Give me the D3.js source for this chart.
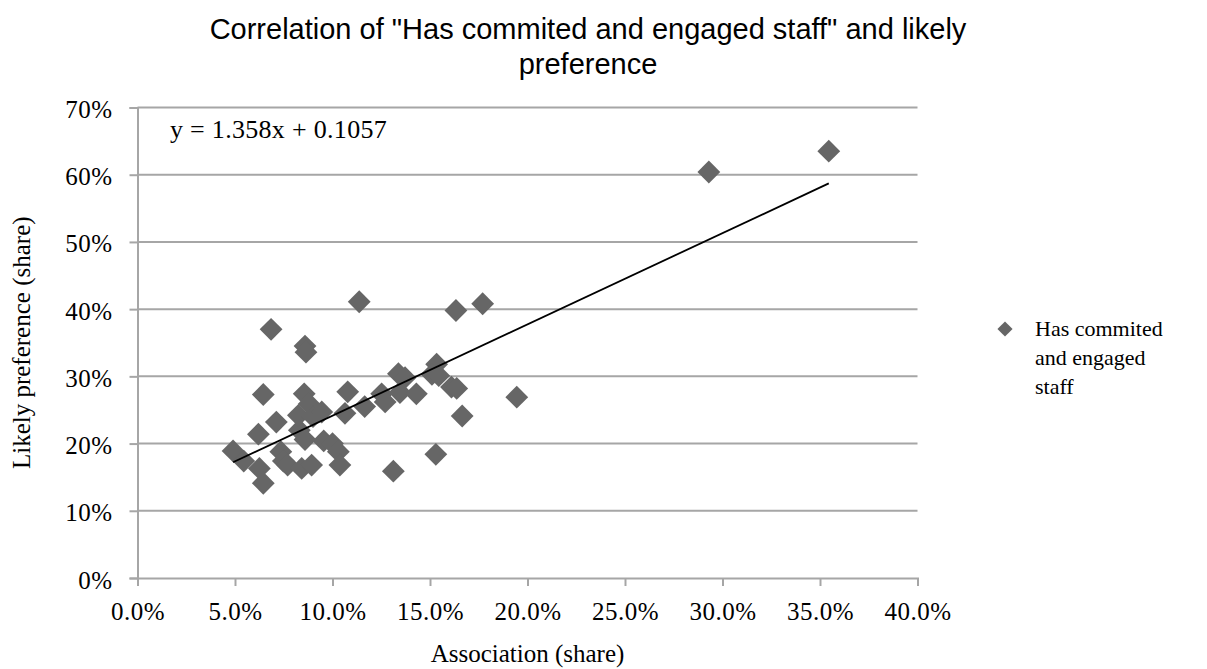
<!DOCTYPE html>
<html>
<head>
<meta charset="utf-8">
<script src="https://cdn.jsdelivr.net/npm/d3@7"></script>
<style>
  html, body { margin: 0; padding: 0; background: #fff; }
  svg { display: block; }
</style>
</head>
<body>
<svg id="chart" width="1207" height="669"></svg>
<script>
// Association share (x) and likely preference share (y), one entry per point
const association = [
  0.049, 0.0545, 0.062, 0.0625, 0.0645, 0.0645, 0.0685, 0.0712, 0.0735, 0.0748,
  0.077, 0.083, 0.0825, 0.0842, 0.0855, 0.0859, 0.0864, 0.0859, 0.088, 0.0893,
  0.090, 0.0945, 0.0955, 0.100, 0.103, 0.1038, 0.1064, 0.1078, 0.1137, 0.1165,
  0.1252, 0.127, 0.1312, 0.1338, 0.1372, 0.1346, 0.143, 0.1534, 0.151, 0.1545,
  0.153, 0.161, 0.1637, 0.1633, 0.1665, 0.177, 0.1945, 0.293, 0.3545
];
const preference = [
  0.189, 0.174, 0.214, 0.163, 0.273, 0.141, 0.370, 0.232, 0.188, 0.174,
  0.168, 0.220, 0.242, 0.163, 0.274, 0.345, 0.336, 0.206, 0.259, 0.168,
  0.240, 0.247, 0.204, 0.200, 0.188, 0.168, 0.245, 0.277, 0.411, 0.255,
  0.274, 0.262, 0.159, 0.304, 0.298, 0.276, 0.274, 0.318, 0.303, 0.301,
  0.184, 0.284, 0.282, 0.398, 0.241, 0.408, 0.269, 0.604, 0.635
];
const seriesName = "Has commited and engaged staff";
const legendLines = ["Has commited", "and engaged", "staff"];
const xTicks = [0, 0.05, 0.10, 0.15, 0.20, 0.25, 0.30, 0.35, 0.40];
const yTicks = [0, 0.1, 0.2, 0.3, 0.4, 0.5, 0.6, 0.7];
// Linear trend: y = slope * x + intercept
const slope = 1.358;
const intercept = 0.1057;
const titleLines = ["Correlation of \"Has commited and engaged staff\" and likely", "preference"];

const svg = d3.select("#chart");
const plot = { left: 137.5, right: 917.5, top: 107.5, bottom: 578 };

const x = d3.scaleLinear().domain([0, 0.4]).range([plot.left, plot.right]);
const y = d3.scaleLinear().domain([0, 0.7]).range([plot.bottom, plot.top]);

const serif = "'Liberation Serif', 'DejaVu Serif', serif";
const sans = "'Liberation Sans', Arial, sans-serif";
const gridColor = "#a6a6a6";
const markColor = "#666666";

// Title
svg.append("g").selectAll("text").data(titleLines).join("text")
  .attr("x", 588).attr("y", (d, i) => 38.5 + i * 35)
  .attr("text-anchor", "middle")
  .attr("font-family", sans).attr("font-size", 29).attr("fill", "#000")
  .text(d => d);

// Horizontal gridlines
svg.append("g").selectAll("line").data(yTicks.filter(t => t > 0)).join("line")
  .attr("x1", plot.left).attr("x2", plot.right)
  .attr("y1", d => y(d)).attr("y2", d => y(d))
  .attr("stroke", gridColor).attr("stroke-width", 2);

// Y axis
const yAxis = d3.axisLeft(y).tickValues(yTicks).tickFormat(d3.format(".0%")).tickSize(8).tickPadding(17);
const gy = svg.append("g").attr("transform", `translate(${plot.left},0)`).call(yAxis);
gy.select(".domain").attr("stroke", gridColor).attr("stroke-width", 2);
gy.selectAll(".tick line").attr("stroke", gridColor).attr("stroke-width", 2);
gy.selectAll(".tick text").attr("font-family", serif).attr("font-size", 25)
  .attr("letter-spacing", 0.5).attr("dy", "0.4em").attr("fill", "#000");

// X axis
const xAxis = d3.axisBottom(x).tickValues(xTicks).tickFormat(d3.format(".1%")).tickSize(8).tickPadding(16);
const gx = svg.append("g").attr("transform", `translate(0,${plot.bottom})`).call(xAxis);
gx.select(".domain").attr("stroke", gridColor).attr("stroke-width", 2);
gx.selectAll(".tick line").attr("stroke", gridColor).attr("stroke-width", 2);
gx.selectAll(".tick text").attr("font-family", serif).attr("font-size", 25)
  .attr("letter-spacing", 0.5).attr("fill", "#000");

// Axis titles
svg.append("text")
  .attr("x", (plot.left + plot.right) / 2).attr("y", 662)
  .attr("text-anchor", "middle")
  .attr("font-family", serif).attr("font-size", 25).attr("fill", "#000")
  .text("Association (share)");
svg.append("text")
  .attr("transform", `translate(30,${(plot.top + plot.bottom) / 2}) rotate(-90)`)
  .attr("text-anchor", "middle")
  .attr("font-family", serif).attr("font-size", 25).attr("fill", "#000")
  .text("Likely preference (share)");

// Points as diamonds
const points = association.map((a, i) => ({ a, p: preference[i] }));
const diamond = d3.symbol().type(d3.symbolSquare).size(260);
svg.append("g").selectAll("path").data(points).join("path")
  .attr("d", diamond)
  .attr("transform", d => `translate(${x(d.a)},${y(d.p)}) rotate(45)`)
  .attr("fill", markColor);

// Trendline spanning the data range
const xMin = d3.min(association), xMax = d3.max(association);
svg.append("line")
  .attr("x1", x(xMin)).attr("y1", y(slope * xMin + intercept))
  .attr("x2", x(xMax)).attr("y2", y(slope * xMax + intercept))
  .attr("stroke", "#000").attr("stroke-width", 1.8);

// Trendline equation
svg.append("text")
  .attr("x", 170).attr("y", 138)
  .attr("font-family", serif).attr("font-size", 26).attr("letter-spacing", 0.3).attr("fill", "#000")
  .text(`y = ${slope}x + ${intercept}`);

// Legend
const legend = svg.append("g").attr("transform", "translate(1005,329)");
legend.append("path")
  .attr("d", d3.symbol().type(d3.symbolSquare).size(115))
  .attr("transform", "rotate(45)")
  .attr("fill", markColor);
legend.append("g").selectAll("text").data(legendLines).join("text")
  .attr("x", 30).attr("y", (d, i) => 7 + i * 29)
  .attr("font-family", serif).attr("font-size", 22).attr("fill", "#000")
  .text(d => d);
legend.append("title").text(seriesName);
</script>
</body>
</html>
